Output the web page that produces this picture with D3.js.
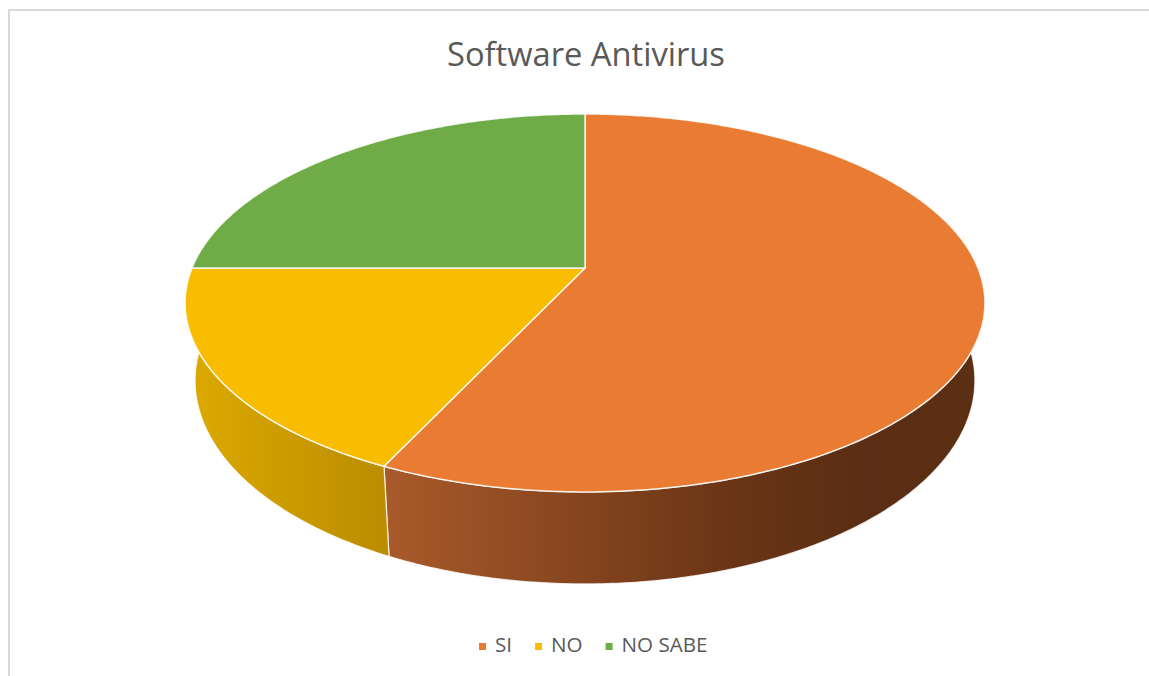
<!DOCTYPE html>
<html>
<head>
<meta charset="utf-8">
<script src="https://cdn.jsdelivr.net/npm/d3@7"></script>
<style>
  body { margin: 0; background: #fff; }
  svg { display: block; }
</style>
</head>
<body>
<div id="chart"></div>
<script>
let categories = ["SI", "NO", "NO SABE"];
let values = [57, 18, 25];
let topColors = ["#e97b32", "#f8bd00", "#6fab46"];
let sideStops = [
    [["#b4602c", 0], ["#a95a2a", 0.25], ["#6a3516", 0.68], ["#5a2e14", 0.85], ["#5c2f14", 1]],
    [["#dcaa00", 0], ["#bb8d00", 0.25], ["#a07800", 1]],
    [["#5a8c38", 0], ["#4a7a2e", 1]]
];
let title = "Software Antivirus";

let width = 1149, height = 676;
let cx = 585, cy = 268;     // projected centre of the top face
let rx = 393, ry = 182.5;   // half axes before perspective
let persp = 0.185;          // perspective factor (far edge smaller)
let depth = 75, shrink = 0.975;

function topPoint(a) {
    let w = 1 + persp * Math.cos(a);
    return [cx + rx * Math.sin(a) / w, cy - ry * Math.cos(a) / w];
}
function bottomPoint(a) {
    let w = 1 + persp * Math.cos(a);
    return [cx + shrink * rx * Math.sin(a) / w, cy - ry * Math.cos(a) / w + depth / w];
}
function sample(a0, a1) {
    let n = Math.max(2, Math.ceil((a1 - a0) / 0.01));
    return d3.range(n + 1).map((i) => a0 + (a1 - a0) * i / n);
}

let svg = d3.select("#chart").append("svg")
    .attr("width", width)
    .attr("height", height);

svg.append("rect")
    .attr("x", 9).attr("y", 10)
    .attr("width", width + 20).attr("height", height + 20)
    .attr("fill", "#fff")
    .attr("stroke", "#d9d9d9")
    .attr("stroke-width", 2);

let defs = svg.append("defs");
sideStops.forEach((stops, i) => {
    let g = defs.append("linearGradient")
        .attr("id", "side" + i)
        .attr("gradientUnits", "userSpaceOnUse")
        .attr("x1", cx - 400).attr("x2", cx + 400)
        .attr("y1", 0).attr("y2", 0);
    stops.forEach((s) => g.append("stop").attr("offset", s[1]).attr("stop-color", s[0]));
});

let pie = d3.pie().sort(null).value((d) => d)(values);
let line = d3.line();

// sides, only the front half is visible
let sides = svg.append("g");
pie.forEach((d, i) => {
    let a0 = Math.max(d.startAngle, Math.PI / 2);
    let a1 = Math.min(d.endAngle, Math.PI * 1.5);
    if (a1 <= a0) return;
    let angles = sample(a0, a1);
    let pts = angles.map(topPoint).concat(angles.slice().reverse().map(bottomPoint));
    sides.append("path")
        .attr("d", line(pts) + "Z")
        .attr("fill", "url(#side" + i + ")")
        .attr("stroke", "#fff")
        .attr("stroke-opacity", 0.8)
        .attr("stroke-width", 1.2)
        .attr("stroke-linejoin", "round");
});

// top faces
let tops = svg.append("g");
pie.forEach((d, i) => {
    let pts = [[cx, cy]].concat(sample(d.startAngle, d.endAngle).map(topPoint));
    tops.append("path")
        .attr("d", line(pts) + "Z")
        .attr("fill", topColors[i])
        .attr("stroke", "#fff")
        .attr("stroke-opacity", 0.85)
        .attr("stroke-width", 1.5)
        .attr("stroke-linejoin", "round");
});

// title
let titleText = svg.append("text")
    .attr("x", 586).attr("y", 66)
    .attr("text-anchor", "middle")
    .attr("font-family", "'Open Sans', sans-serif")
    .attr("font-size", 28)
    .attr("fill", "#595959")
    .text(title);
let tw = titleText.node().getComputedTextLength();
titleText.attr("font-size", 28 * 278 / tw);

// legend
let legend = svg.append("g");
let items = categories.map((c, i) => {
    let g = legend.append("g");
    g.append("rect").attr("width", 7).attr("height", 7).attr("y", -9).attr("fill", topColors[i]);
    let t = g.append("text").attr("x", 16).attr("y", 0)
        .attr("font-family", "'Open Sans', sans-serif")
        .attr("font-size", 18)
        .attr("fill", "#595959")
        .text(c);
    return {g: g, t: t};
});
let lw = items[2].t.node().getComputedTextLength();
let fs = 18 * 86 / lw;
items.forEach((it) => it.t.attr("font-size", fs));
let xPos = 479;
items.forEach((it) => {
    it.g.attr("transform", "translate(" + xPos + ",652)");
    xPos += 16 + it.t.node().getComputedTextLength() + 23;
});
</script>
</body>
</html>
